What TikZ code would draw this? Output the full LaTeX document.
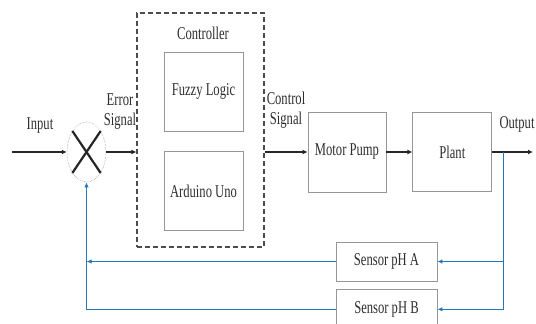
\documentclass[tikz,border=0pt]{standalone}
\usepackage{fontspec}
\setmainfont{Liberation Serif}[FakeStretch=0.7]
\usetikzlibrary{arrows.meta, positioning, shapes.geometric}
\definecolor{fbblue}{RGB}{38,118,186}
\definecolor{boxgray}{RGB}{150,150,150}
\definecolor{txt}{RGB}{45,45,45}

\begin{document}
\begin{tikzpicture}[
  x=1pt, y=-1pt,
  font=\fontsize{18}{20}\selectfont, text=txt,
  blk/.style={draw=boxgray, line width=0.8pt, align=center, inner sep=0pt,
              minimum width=79pt, minimum height=79pt},
  sens/.style={draw=boxgray, line width=0.8pt, align=center, inner sep=0pt,
               minimum width=101pt, minimum height=39pt},
  a/.style={-{Latex[length=5pt, width=5pt]}, line width=1.9pt, black!85},
  fb/.style={-{Latex[length=5pt, width=4.5pt]}, line width=1.6pt, fbblue},
  lbl/.style={align=center, inner sep=0pt}
]
\useasboundingbox (0,0) rectangle (536,324);

% ---------- summing junction ----------
\node[ellipse, draw=black!45, densely dotted, line width=0.5pt, inner sep=0pt,
      minimum width=39pt, minimum height=60pt] (sum) at (86.5,152) {};
\draw[line width=2.2pt, black!85] (sum.124) -- (sum.-56) (sum.56) -- (sum.-124);

\coordinate (in) at (12,152);
\draw[a] (in) -- (sum.west);
\node[lbl] (inlbl) at (40,126) {Input};

% ---------- controller ----------
\node[draw=black!70, dash pattern=on 5pt off 3pt, line width=1.2pt, inner sep=0pt,
      minimum width=127pt, minimum height=234pt] (ctrl) at (200.5,130) {};
\node[lbl] (ctrltitle) at (203,33) {Controller};
\node[blk] (fuzzy) at (203.5,91.5) {Fuzzy Logic};
\node[blk, below=20pt of fuzzy] (uno) {Arduino Uno};

\node[lbl] (errlbl) at (120,112) {Error\\Signal};
\draw[a] (sum.east) -- (sum.east -| ctrl.west);

% ---------- forward path ----------
\node[blk, minimum width=78pt, minimum height=80pt] (pump) at (347,152) {Motor Pump};
\node[blk, right=26pt of pump] (plant) {Plant};
\node[lbl] (ctllbl) at (286,110) {Control\\Signal};

\draw[a] (ctrl.east |- pump.west) -- (pump.west);
\draw[a] (pump) -- (plant);
\coordinate (out) at (533,152);
\draw[a] (plant.east) -- (out);
\node[lbl] (outlbl) at (517,124) {Output};

% ---------- feedback ----------
\node[sens] (sensA) at (386.5,261.5) {Sensor pH A};
\node[sens, below=8pt of sensA] (sensB) {Sensor pH B};

\coordinate (tap) at (503.5,152);
\draw[fb] (tap) -- (tap |- sensB) -- (sensB.east);
\draw[fb] (tap |- sensA) -- (sensA.east);
\draw[fb] (sensA.west) -- (sensA.west -| sum.south);
\draw[fb] (sensB.west) -- (sensB.west -| sum.south) -- (sum.south);

\end{tikzpicture}
\end{document}
